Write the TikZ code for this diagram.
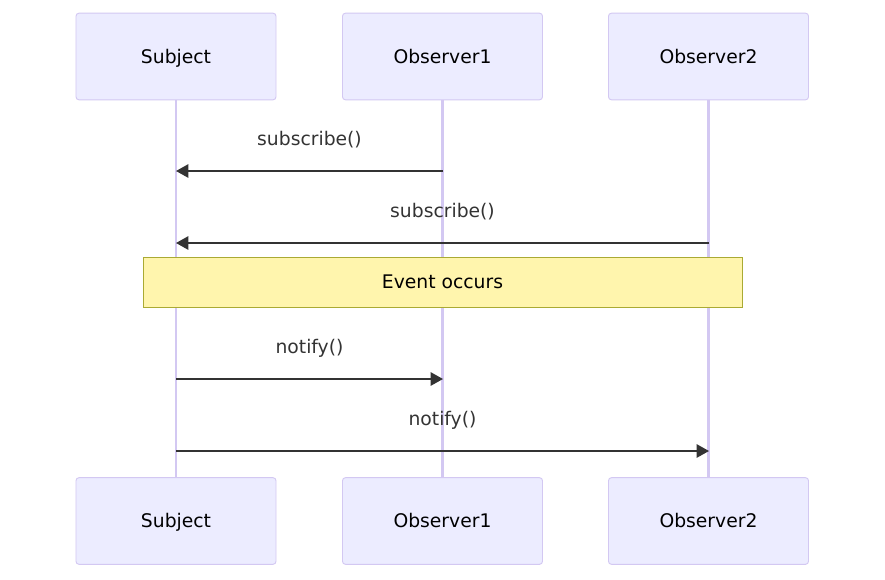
\documentclass[tikz,border=0pt]{standalone}
\usepackage{fontspec}
\setmainfont{DejaVu Sans}
\usetikzlibrary{arrows.meta}
\definecolor{actorfill}{HTML}{ECECFF}
\definecolor{actorline}{HTML}{D3C8F2}
\definecolor{notefill}{HTML}{FFF5AD}
\definecolor{noteline}{HTML}{AAAA33}
\definecolor{msgcol}{HTML}{333333}
\tikzstyle{actor} = [draw=actorline, fill=actorfill, line width=0.8pt, rounded corners=0.09cm, minimum width=6cm, minimum height=2.6cm, text height=11.7pt, text depth=0pt, font={\fontsize{16}{19}\selectfont}]
\tikzstyle{lifeline} = [draw=actorline, line width=2pt]
\tikzstyle{note} = [draw=noteline, fill=notefill, line width=0.8pt, minimum width=17.97cm, minimum height=1.5cm, font={\fontsize{16}{19}\selectfont}]
\tikzstyle{msg} = [draw=msgcol, line width=1.5pt, -{Triangle[length=0.37cm,width=0.4cm]}]
\tikzstyle{msglabel} = [text=msgcol, font={\fontsize{16}{19}\selectfont}, yshift=0.93cm]

\begin{document}
\begin{tikzpicture}[x=0.03cm, y=-0.03cm]
    \useasboundingbox (0,0) rectangle (885,579);
    \node[actor](sub) at (176,56.5){Subject};
    \node[actor](obs1) at (442.5,56.5){Observer1};
    \node[actor](obs2) at (708.5,56.5){Observer2};
    \node[actor](subB) at (176,521){Subject};
    \node[actor](obs1B) at (442.5,521){Observer1};
    \node[actor](obs2B) at (708.5,521){Observer2};
    \draw[lifeline](sub)--(subB);
    \draw[lifeline](obs1)--(obs1B);
    \draw[lifeline](obs2)--(obs2B);
    \node[note](event) at (442.5,282){Event occurs};
    % message ends on the lifelines
    \coordinate (s1) at (176,171);
    \coordinate (o1a) at (443,171);
    \coordinate (s2) at (176,243);
    \coordinate (o2a) at (709,243);
    \coordinate (s3) at (176,379);
    \coordinate (o1b) at (443,379);
    \coordinate (s4) at (176,451);
    \coordinate (o2b) at (709,451);
    \draw[msg](o1a)--node[msglabel](m1){subscribe()}(s1);
    \draw[msg](o2a)--node[msglabel](m2){subscribe()}(s2);
    \draw[msg](s3)--node[msglabel](m3){notify()}(o1b);
    \draw[msg](s4)--node[msglabel](m4){notify()}(o2b);
  \end{tikzpicture}
\end{document}
